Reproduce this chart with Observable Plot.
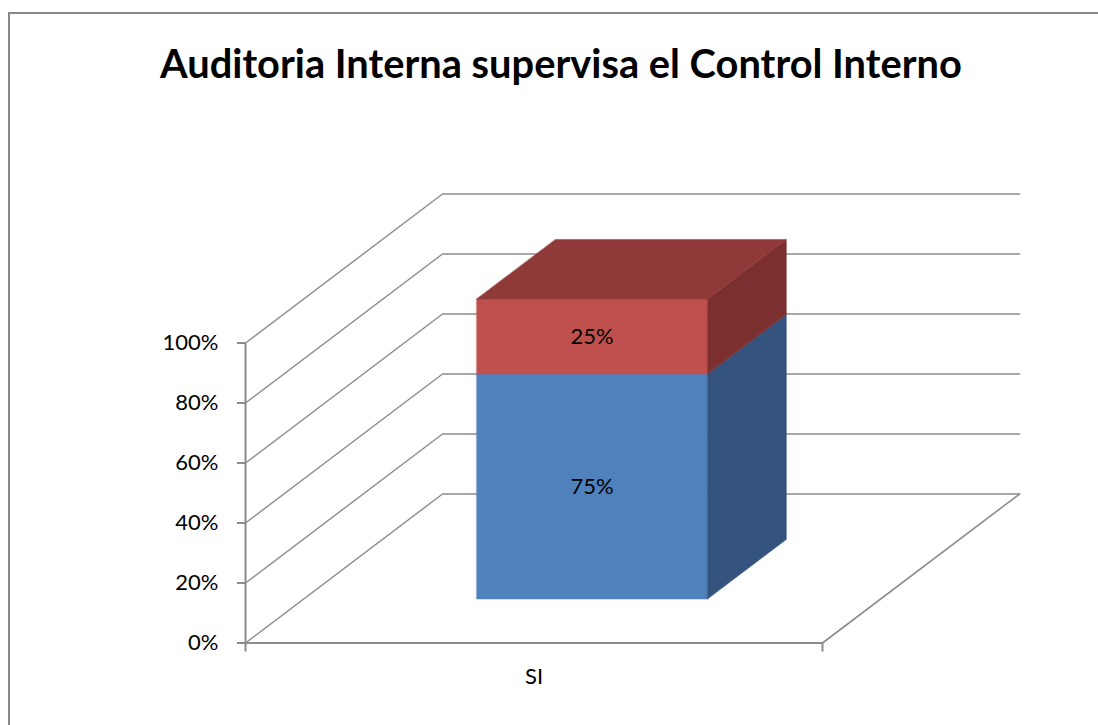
<!DOCTYPE html>
<html><head><meta charset="utf-8">
<script src="https://cdn.jsdelivr.net/npm/d3@7"></script>
<script src="https://cdn.jsdelivr.net/npm/@observablehq/plot@0.6"></script>
<style>
html,body{margin:0;padding:0;background:#fff;overflow:hidden;width:1098px;height:725px;}
#page{position:relative;width:1098px;height:725px;overflow:hidden;
  background:
    linear-gradient(#888,#888) 8px 12px / 1090px 2px no-repeat,
    linear-gradient(#888,#888) 8px 12px / 2px 713px no-repeat,
    #fff;}
#title{position:relative;height:120px;overflow:hidden;}
#title span{position:absolute;left:0;width:1098px;text-align:center;font-family:Lato,"Open Sans",sans-serif;font-weight:bold;white-space:nowrap;line-height:1;color:#000;}
#chart{position:relative;height:605px;}
</style></head><body>
<div id="page"><div id="title"><span></span></div><div id="chart"></div></div>
<script>
// ---- data ----
const titleText = "Auditoria Interna supervisa el Control Interno";
const categories = ["SI"];
const seriesNames = ["Serie 1", "Serie 2"];
const seriesValues = [[75], [25]];          // percent, per series per category
const yTicks = [0, 20, 40, 60, 80, 100];
// ---- styles ----
const frontColors = ["#4F81BD", "#C0504D"];
const sideColors  = ["#34537E", "#7B302F"];
const topColors   = ["#3F6797", "#8F3A39"];
const gridColor = "#8c8c8c";
const fontFamily = 'Lato, "Open Sans", sans-serif';

// ---- title fit ----
const span = document.querySelector("#title span");
span.textContent = titleText;
const ctx = document.createElement("canvas").getContext("2d");
ctx.font = "bold 100px " + fontFamily;
const tSize = 100 * 802 / ctx.measureText(titleText).width;
span.style.fontSize = tSize + "px";
span.style.top = (78 - 0.887 * tSize) + "px";
span.style.left = (561 - 549) + "px";

// ---- 3D oblique projection (in scale units) ----
const DX = 197 / 577;   // x-units per full depth
const DY = 149 / 3;     // y-units (percent) per full depth
const proj = (u, v, d) => ({x: u + d * DX, y: v + d * DY});

const wallLines = yTicks.flatMap(t =>
  [[0, t, 0], [0, t, 1], [1, t, 1]].map(([u, v, d]) => ({...proj(u, v, d), key: "g" + t})));
const floorEdge = [[1, 0, 0], [1, 0, 1]].map(([u, v, d]) => ({...proj(u, v, d), key: "floor"}));

const barWidth = 0.4, depth0 = 0.295, depthW = 0.4;
const faces = [], labels = [];
categories.forEach((c, ci) => {
  const u0 = ci + 0.5 - barWidth / 2, u1 = ci + 0.5 + barWidth / 2;
  const d0 = depth0, d1 = depth0 + depthW;
  let acc = 0;
  seriesValues.forEach((vals, si) => {
    const y0 = acc, y1 = acc + vals[ci];
    acc = y1;
    const add = (name, pts, fill) => pts.forEach(([u, v, d]) => faces.push({...proj(u, v, d), face: `${c}-${si}-${name}`, fill}));
    add("front", [[u0, y0, d0], [u1, y0, d0], [u1, y1, d0], [u0, y1, d0]], frontColors[si]);
    add("side", [[u1, y0, d0], [u1, y0, d1], [u1, y1, d1], [u1, y1, d0]], sideColors[si]);
    if (si === seriesValues.length - 1)
      add("top", [[u0, y1, d0], [u1, y1, d0], [u1, y1, d1], [u0, y1, d1]], topColors[si]);
    labels.push({...proj(ci + 0.5, (y0 + y1) / 2, d0), text: vals[ci] + "%"});
  });
});

const plot = Plot.plot({
  width: 1098, height: 605,
  marginLeft: 245, marginRight: 276, marginTop: 222.5, marginBottom: 82.5,
  x: {domain: [0, categories.length], label: null},
  y: {domain: [0, 100], label: null},
  color: {type: "identity"},
  style: {fontFamily, fontSize: "22px", color: "#000", background: "transparent", overflow: "visible"},
  marks: [
    Plot.line(wallLines, {x: "x", y: "y", z: "key", stroke: gridColor, strokeWidth: 1.4}),
    Plot.line(floorEdge, {x: "x", y: "y", z: "key", stroke: gridColor, strokeWidth: 1.6}),
    Plot.ruleX([0], {y1: 0, y2: 100, stroke: gridColor, strokeWidth: 2}),
    Plot.ruleY([0], {x1: 0, x2: categories.length, stroke: gridColor, strokeWidth: 2}),
    Plot.axisY(yTicks, {label: null, tickSize: 8, tickPadding: 19, tickFormat: d => d + "%", stroke: gridColor, strokeWidth: 2, fill: "#000", fontSize: 22, strokeOpacity: 1}),
    Plot.axisX(d3.range(categories.length + 1), {label: null, tickSize: 9, tickFormat: () => "", stroke: gridColor, strokeWidth: 2, strokeOpacity: 1}),
    Plot.text(categories, {x: (d, i) => i + 0.5, y: 0, dy: 34, text: d => d, fontSize: 22, fill: "#000"}),
    Plot.line(faces, {x: "x", y: "y", z: "face", fill: "fill", stroke: "fill", strokeWidth: 0.5, curve: "linear-closed"}),
    Plot.text(labels, {x: "x", y: "y", text: "text", fontSize: 22, fill: "#000"})
  ]
});
document.getElementById("chart").appendChild(plot);
</script>
</body></html>
